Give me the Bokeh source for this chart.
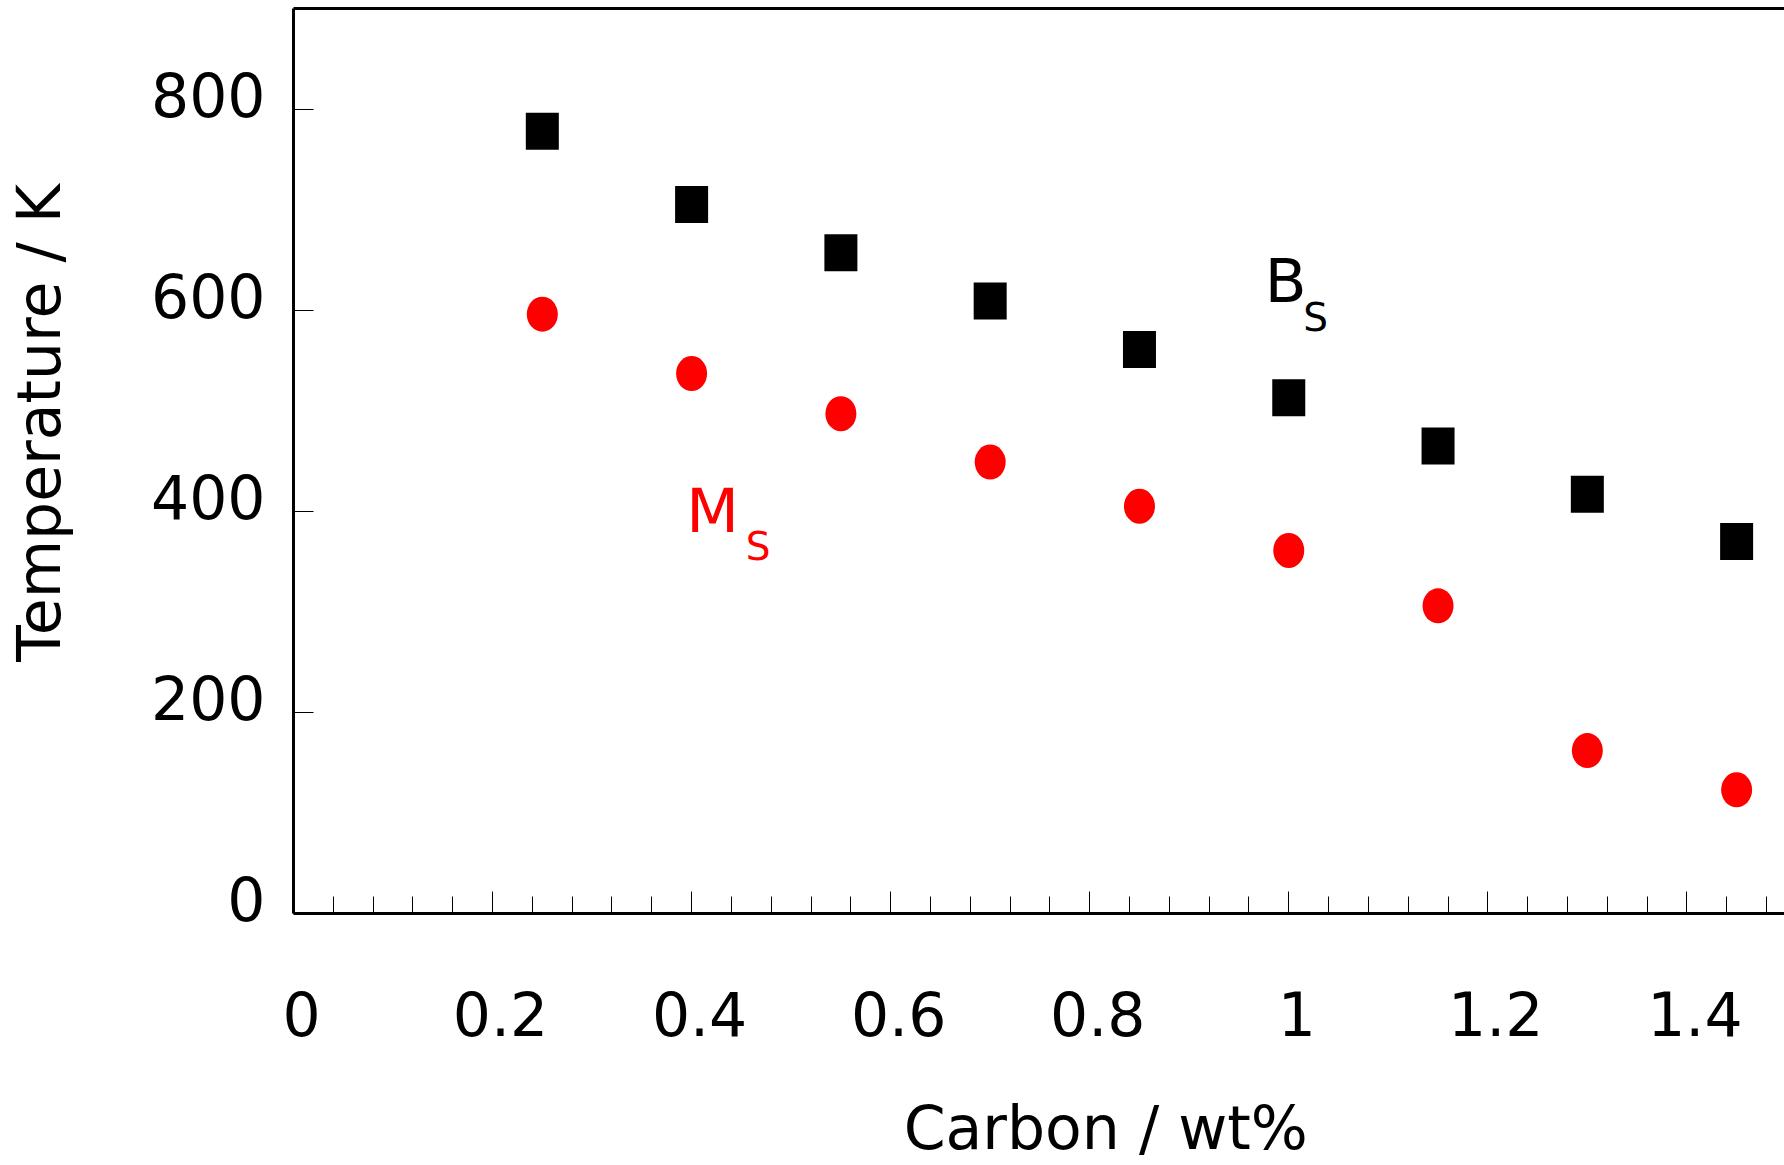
import numpy as np
from bokeh.plotting import figure
from bokeh.models import Range1d, FixedTicker, LinearAxis, Label, ColumnDataSource
from bokeh.embed import file_html
from bokeh.resources import INLINE

# ---- data ----
carbon_wt = [0.25, 0.40, 0.55, 0.70, 0.85, 1.00, 1.15, 1.30, 1.45]
bainite_start_K = [778, 705, 657, 609, 561, 513, 465, 417, 370]
martensite_start_K = [596, 537, 497, 449, 405, 361, 306, 162, 123]

x_tick_values = [0, 0.2, 0.4, 0.6, 0.8, 1.0, 1.2, 1.4]
x_tick_labels = ["0", "0.2", "0.4", "0.6", "0.8", "1", "1.2", "1.4"]
y_tick_values = [0, 200, 400, 600, 800]
y_tick_labels = ["0", "200", "400", "600", "800"]

x_title = "Carbon / wt%"
y_title = "Temperature / K"

FONT = "DejaVu Sans"
X_END = 1.4981
Y_END = 900
NBSP = "\u00a0"   # leading padding shifts the centred titles like in the reference

p = figure(width=1784, height=1165, output_backend="svg", toolbar_location=None,
           x_range=Range1d(0, X_END), y_range=Range1d(0, Y_END),
           min_border_left=291, min_border_right=0, min_border_top=8,
           min_border_bottom=250, x_axis_type=None, y_axis_type=None)
p.outline_line_color = None
p.background_fill_color = "white"
p.border_fill_color = "white"

# label ranges, shifted by a few pixels so tick labels sit like in the reference
dx = 8 / 996.6
dy = 15 / 1.0078
p.extra_x_ranges = {"xlab": Range1d(-dx, X_END - dx)}
p.extra_y_ranges = {"ylab": Range1d(-dy, Y_END - dy)}

minor_x = [round(v, 2) for v in np.arange(0, 1.5, 0.04)]
x_over = {v: l for v, l in zip(x_tick_values, x_tick_labels)}
y_over = {v: l for v, l in zip(y_tick_values, y_tick_labels)}

def hide_labels(ax):
    ax.major_label_standoff = 0
    ax.major_label_text_font_size = "1px"
    ax.major_label_text_color = None

def bare(ax):
    ax.axis_line_color = None
    ax.major_tick_line_color = None
    ax.minor_tick_line_color = None
    ax.major_tick_in = 0
    ax.major_tick_out = 0
    ax.minor_tick_in = 0
    ax.minor_tick_out = 0

# main x axis: line and ticks
xaxis = LinearAxis(ticker=FixedTicker(ticks=x_tick_values, minor_ticks=minor_x))
xaxis.axis_line_width = 3
xaxis.axis_line_color = "black"
xaxis.major_tick_in = 22
xaxis.major_tick_out = 0
xaxis.minor_tick_in = 17
xaxis.minor_tick_out = 0
xaxis.major_tick_line_width = 1
xaxis.minor_tick_line_width = 1
xaxis.major_tick_line_color = "black"
xaxis.minor_tick_line_color = "black"
hide_labels(xaxis)
p.add_layout(xaxis, "below")

# x tick labels
xlab = LinearAxis(x_range_name="xlab",
                  ticker=FixedTicker(ticks=x_tick_values, minor_ticks=[]),
                  major_label_overrides=x_over)
bare(xlab)
xlab.major_label_standoff = 77
xlab.major_label_text_font = FONT
xlab.major_label_text_font_size = "60px"
xlab.major_label_text_color = "black"
p.add_layout(xlab, "below")

# x title
xt = LinearAxis(ticker=FixedTicker(ticks=[], minor_ticks=[]),
                axis_label=NBSP * 7 + x_title)
bare(xt)
hide_labels(xt)
xt.axis_label_standoff = 54
xt.axis_label_text_font = FONT
xt.axis_label_text_font_size = "60px"
xt.axis_label_text_font_style = "normal"
xt.axis_label_text_color = "black"
p.add_layout(xt, "below")

# main y axis: line and ticks
yaxis = LinearAxis(ticker=FixedTicker(ticks=y_tick_values, minor_ticks=[]))
yaxis.axis_line_width = 3
yaxis.axis_line_color = "black"
yaxis.major_tick_in = 20
yaxis.major_tick_out = 0
yaxis.minor_tick_line_color = None
yaxis.major_tick_line_width = 1
yaxis.major_tick_line_color = "black"
hide_labels(yaxis)
p.add_layout(yaxis, "left")

# y tick labels
ylab = LinearAxis(y_range_name="ylab",
                  ticker=FixedTicker(ticks=y_tick_values, minor_ticks=[]),
                  major_label_overrides=y_over)
bare(ylab)
ylab.major_label_standoff = 28
ylab.major_label_text_font = FONT
ylab.major_label_text_font_size = "60px"
ylab.major_label_text_color = "black"
p.add_layout(ylab, "left")

# y title
yt = LinearAxis(ticker=FixedTicker(ticks=[], minor_ticks=[]),
                axis_label=NBSP * 4 + y_title)
bare(yt)
hide_labels(yt)
yt.axis_label_standoff = 74
yt.axis_label_text_font = FONT
yt.axis_label_text_font_size = "60px"
yt.axis_label_text_font_style = "normal"
yt.axis_label_text_color = "black"
p.add_layout(yt, "left")

# top frame line
top = LinearAxis(ticker=FixedTicker(ticks=[], minor_ticks=[]))
top.axis_line_width = 3
top.axis_line_color = "black"
top.major_tick_line_color = None
top.minor_tick_line_color = None
hide_labels(top)
p.add_layout(top, "above")

src = ColumnDataSource(dict(c=carbon_wt, bs=bainite_start_K, ms=martensite_start_K))
p.rect(x="c", y="bs", width=33, height=37, width_units="screen", height_units="screen",
       source=src, fill_color="black", line_color=None)
p.ellipse(x="c", y="ms", width=31, height=35, width_units="screen", height_units="screen",
          source=src, fill_color="red", line_color=None)

def lab(x, y, text, size, color="black"):
    p.add_layout(Label(x=x, y=y, text=text, text_font=FONT, text_font_size=size,
                       text_color=color, text_baseline="middle", text_align="left"))

lab(0.976, 630, "B", "61px")
lab(1.0145, 593, "S", "39px")
lab(0.3947, 401, "M", "61px", color="red")
lab(0.4545, 365, "S", "39px", color="red")

open("out.html", "w").write(file_html(p, INLINE))
